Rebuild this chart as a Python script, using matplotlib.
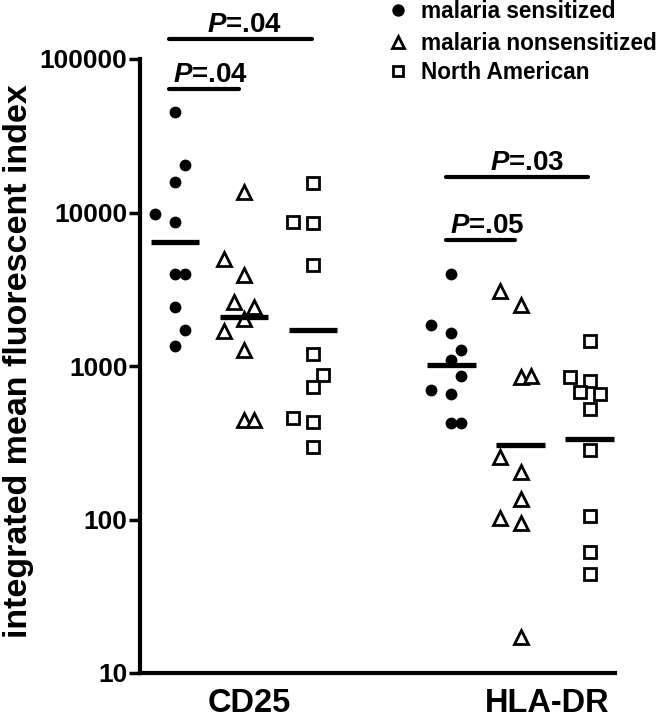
import numpy as np
import matplotlib.pyplot as plt
from matplotlib.lines import Line2D
from matplotlib.ticker import FixedLocator, FixedFormatter, NullLocator

plt.rcParams['font.family'] = ['Liberation Sans', 'DejaVu Sans']
plt.rcParams['mathtext.fontset'] = 'custom'
plt.rcParams['mathtext.it'] = 'Liberation Sans:italic:bold'
plt.rcParams['mathtext.rm'] = 'Liberation Sans:bold'

# values (integrated MFI), 10 donors per group
cd25_sens = [45000, 20500, 15800, 9800, 8700, 4000, 4000, 2430, 1720, 1340]
cd25_non = [13700, 4950, 3920, 2620, 2410, 2020, 1700, 1270, 445, 445]
cd25_na = [15500, 8700, 8500, 4550, 1200, 870, 726, 456, 434, 298]
hla_sens = [3970, 1850, 1650, 1270, 1094, 861, 698, 658, 428, 428]
hla_non = [3100, 2490, 843, 865, 256, 205, 137, 103, 94.5, 17.2]
hla_na = [1460, 843, 798, 680, 658, 522, 284, 105, 61.6, 44.2]

# horizontal spread slots used to keep overlapping points apart
jit_cd25_sens = [0, 1, 0, -2, 0, 0, 1, 0, 1, 0]
jit_cd25_non = [0, -2, 0, -1, 1, 0, -2, 0, 0, 1]
jit_cd25_na = [0, -2, 0, 0, 0, 1, 0, -2, 0, 0]
jit_hla_sens = [0, -2, 0, 1, 0, 1, -2, 0, 0, 1]
jit_hla_non = [-2, 0, 0, 1, -2, 0, 0, -2, 0, 0]
jit_hla_na = [0, -2, 0, -1, 1, 0, 0, 0, 0, 0]

groups = ['CD25', 'HLA-DR']
series_names = ['malaria sensitized', 'malaria nonsensitized', 'North American']
pvals = ['.04', '.04', '.03', '.05']

yticks = [10, 100, 1000, 10000, 100000]
ytick_labels = ['10', '100', '1000', '10000', '100000']

styles = [dict(marker='o', ms=8.5, mfc='black', mec='black', mew=0),
          dict(marker='^', ms=10.5, mfc='white', mec='black', mew=2.0),
          dict(marker='s', ms=9, mfc='white', mec='black', mew=2.0)]

fig = plt.figure(figsize=(6.64, 7.2), dpi=100)
ax = fig.add_axes([140/664, 1-673/720, 475/664, 614/720])
ax.set_yscale('log')
ax.set_ylim(10, 100000)
ax.set_xlim(-0.5065, 6.367)

data = [(cd25_sens, jit_cd25_sens), (cd25_non, jit_cd25_non), (cd25_na, jit_cd25_na),
        (hla_sens, jit_hla_sens), (hla_non, jit_hla_non), (hla_na, jit_hla_na)]
pos = [0, 1, 2, 4, 5, 6]
slot = 0.145

for i, (vals, jit) in enumerate(data):
    x = pos[i] + slot*np.array(jit)
    ax.plot(x, vals, ls='none', clip_on=False, zorder=3, **styles[i % 3])
    gm = np.exp(np.mean(np.log(vals)))
    ax.plot([pos[i]-0.35, pos[i]+0.35], [gm, gm], color='black', lw=3.8,
            solid_capstyle='butt', zorder=4)

# significance bars: (first column, last column, height, label index, label shift)
bars = [(0, 2, 134900, 0, 0.05), (0, 1, 63800, 1, 0.1),
        (3, 5, 17000, 2, 0.15), (3, 4, 6620, 3, 0.1)]
for a, b, yv, k, dx in bars:
    x0 = pos[a] - 0.08
    x1 = pos[b] - 0.02 if k in (0, 2) else pos[b] - 0.08
    ax.plot([x0, x1], [yv, yv], color='black', lw=3, clip_on=False,
            solid_capstyle='round')
    ax.annotate(r'$\mathit{P}$=' + pvals[k], xy=((x0+x1)/2 + dx, yv),
                xytext=(0, 5), textcoords='offset points', ha='center',
                va='baseline', fontsize=20, fontweight='bold', annotation_clip=False)

for s in ['top', 'right']:
    ax.spines[s].set_visible(False)
for s in ['left', 'bottom']:
    ax.spines[s].set_linewidth(3)
ax.yaxis.set_major_locator(FixedLocator(yticks))
ax.yaxis.set_major_formatter(FixedFormatter(ytick_labels))
ax.yaxis.set_minor_locator(NullLocator())
ax.tick_params(axis='y', length=8, width=2.5, pad=1, labelsize=19)
for t in ax.get_yticklabels():
    t.set_fontweight('bold')
ax.set_xticks([1.07, 5.38])
ax.set_xticklabels(groups, fontsize=23.5, fontweight='bold')
ax.tick_params(axis='x', length=0, pad=11)

fig.text(19/664, 1-361/720, 'integrated mean fluorescent index', rotation=90,
         ha='center', va='center', fontsize=24.5, fontweight='bold')

# legend
leg_marker_y = [10, 42, 71]
leg_text_y = [18, 50, 79]
leg_scale = [1.05, 0.85, 0.85]
for i, name in enumerate(series_names):
    st = dict(styles[i])
    st['ms'] = st['ms'] * leg_scale[i]
    fig.add_artist(Line2D([398/664], [1-leg_marker_y[i]/720], ls='none',
                          transform=fig.transFigure, **st))
    fig.text(421/664, 1-leg_text_y[i]/720, name, ha='left', va='baseline',
             fontsize=16.3, fontweight='bold')

fig.savefig('out.png', dpi=100)
